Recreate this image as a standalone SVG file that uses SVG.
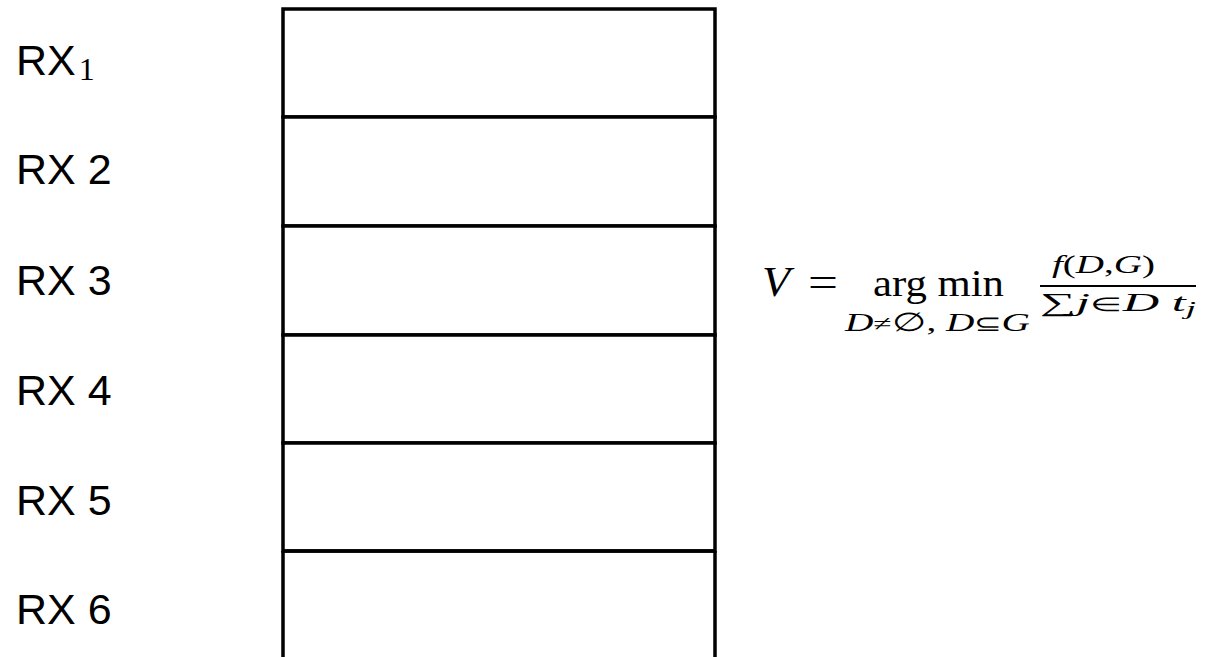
<svg xmlns="http://www.w3.org/2000/svg" width="1205" height="657" viewBox="0 0 1205 657">
<style>
.lbl{font-family:"Liberation Sans",Arial,sans-serif;font-size:43px;fill:#000}
.sub{font-family:"Liberation Serif","Times New Roman",serif;font-size:32px}
.m{font-family:"Liberation Serif","Times New Roman",serif;fill:#000}
.i{font-style:italic}
.cell{fill:#fff;stroke:#000;stroke-width:3.5}
</style>
<rect width="1205" height="657" fill="#fff"/>
<g id="stack">
<rect class="cell" x="283" y="9" width="432" height="108"/>
<rect class="cell" x="283" y="117" width="432" height="109"/>
<rect class="cell" x="283" y="226" width="432" height="109"/>
<rect class="cell" x="283" y="335" width="432" height="108"/>
<rect class="cell" x="283" y="443" width="432" height="108"/>
<path d="M283 551 H715 M283 551 V660 M715 551 V660" fill="none" stroke="#000" stroke-width="3.5"/>
</g>
<g id="labels">
<text class="lbl" x="16" y="75">RX<tspan class="sub" dx="3" dy="5">1</tspan></text>
<text class="lbl" x="16" y="184">RX 2</text>
<text class="lbl" x="16" y="295">RX 3</text>
<text class="lbl" x="16" y="405">RX 4</text>
<text class="lbl" x="16" y="515">RX 5</text>
<text class="lbl" x="16" y="624">RX 6</text>
</g>
<g id="formula" class="m">
<text class="m i" x="762" y="296" font-size="42" textLength="28" lengthAdjust="spacingAndGlyphs">V</text>
<text class="m" x="808" y="296" font-size="42" textLength="30" lengthAdjust="spacingAndGlyphs">=</text>
<text class="m" x="873" y="296" font-size="37" textLength="131" lengthAdjust="spacingAndGlyphs">arg min</text>
<text class="m" x="845" y="331" font-size="26" textLength="185" lengthAdjust="spacingAndGlyphs"><tspan class="i">D</tspan><tspan font-size="22">≠</tspan>∅, <tspan class="i">D</tspan><tspan font-size="22">⊆</tspan><tspan class="i">G</tspan></text>
<text class="m" x="1052" y="273" font-size="26" textLength="103" lengthAdjust="spacingAndGlyphs"><tspan class="i">f</tspan>(<tspan class="i">D</tspan>,<tspan class="i">G</tspan>)</text>
<line x1="1040" y1="286" x2="1196" y2="286" stroke="#000" stroke-width="1.8"/>
<text class="m" x="1040" y="311" font-size="26" textLength="156" lengthAdjust="spacingAndGlyphs">∑<tspan class="i">j</tspan><tspan font-size="19">∈</tspan><tspan class="i">D</tspan> <tspan class="i">t</tspan><tspan class="i" font-size="19" dy="4">j</tspan></text>
</g>
</svg>
